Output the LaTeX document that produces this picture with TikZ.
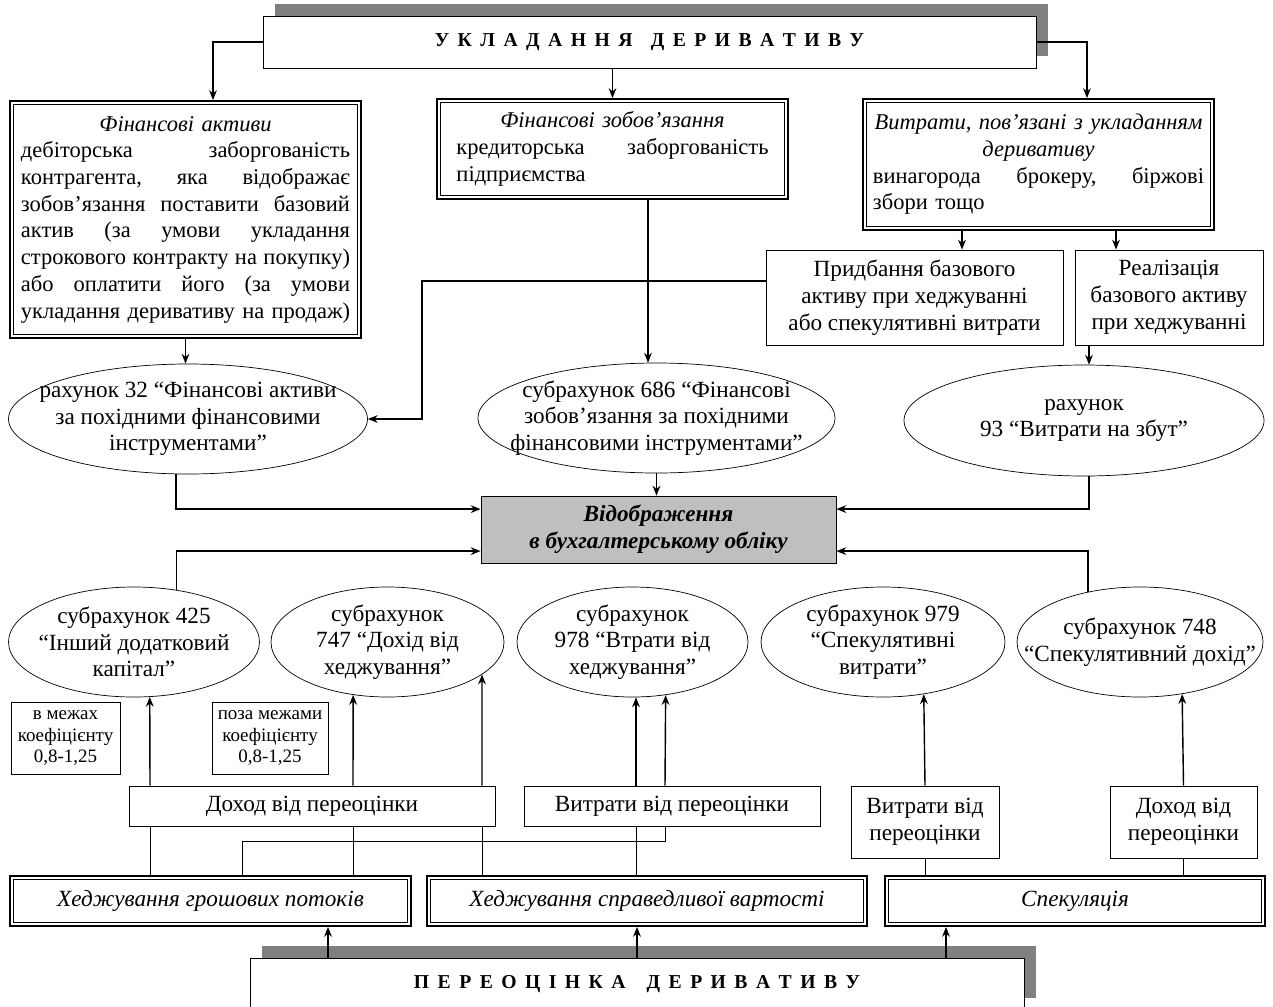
\documentclass[tikz,border=0pt]{standalone}
\usepackage{fontspec}
\setmainfont{Liberation Serif}
\usepackage{xcolor}
\usepackage{tikz}
\usetikzlibrary{
    shapes,
    shapes.geometric,
    positioning,
    shadows,
    calc,
    arrows.meta
}
\definecolor{shadowgray}{gray}{0.5}
\definecolor{boxgray}{gray}{0.75}
\newcommand{\pxs}{0.025cm}
\newcommand{\mainsize}{\fontsize{16.5}{19}\selectfont}
\newcommand{\boxsize}{\fontsize{16}{19}\selectfont}
\newcommand{\notesize}{\fontsize{13.5}{15.6}\selectfont}
\newcommand{\headsize}{\fontsize{14}{17}\selectfont}
\newlength{\jw}
\newcommand{\jline}[1]{\leavevmode\hbox to \jw{#1}}
\tikzset{
  basic/.style = {
      draw,
      fill=white,
      line width=0.6pt,
      font=\mainsize,
      align=center,
      inner sep=0pt
  },
  dbox/.style = {
      basic,
      line width=1.3pt,
      path picture={
        \draw[line width=0.6pt]
          ([shift={(2.7pt,2.7pt)}]path picture bounding box.south west) rectangle
          ([shift={(-2.7pt,-2.7pt)}]path picture bounding box.north east);
      }
  },
  infobox/.style = {
      dbox,
      font=\boxsize
  },
  hedge/.style = {
      dbox,
      font=\mainsize\itshape
  },
  headbox/.style = {
      basic,
      font={\headsize\bfseries\spaceskip=6pt\relax},
      drop shadow={shadow xshift=0.3cm, shadow yshift=0.3cm,
                   fill=shadowgray, opacity=1}
  },
  result/.style = {
      basic,
      fill=boxgray,
      font=\mainsize\bfseries\itshape
  },
  note/.style = {
      basic,
      font=\notesize
  },
  account/.style = {
      draw,
      ellipse,
      line width=0.5pt,
      inner sep=0pt
  },
  acctext/.style = {
      font=\mainsize,
      align=center,
      inner sep=0pt
  },
  flow/.style = {
      line width=1pt,
      -{Stealth[length=7pt, width=5.5pt]}
  },
  link/.style = {
      line width=0.6pt
  }
}

\begin{document}
\begin{tikzpicture}[x=\pxs, y=-\pxs]
        \useasboundingbox (0,0) rectangle (1273,1006);
        \clip (0,0) rectangle (1273,1006);
        \coordinate (x150) at (150,0);
        \coordinate (x176) at (176,0);
        \coordinate (x213) at (213,0);
        \coordinate (x242) at (242,0);
        \coordinate (x328) at (328,0);
        \coordinate (x353) at (353,0);
        \coordinate (x422) at (422,0);
        \coordinate (x482) at (482,0);
        \coordinate (x636) at (636,0);
        \coordinate (x637) at (637,0);
        \coordinate (x648) at (648,0);
        \coordinate (x946) at (946,0);
        \coordinate (x962) at (962,0);
        \coordinate (x1087) at (1087,0);
        \coordinate (x1089) at (1089,0);
        \coordinate (x1116) at (1116,0);
        \coordinate (jog) at (665,841);
        % Boxes
        \node[headbox, minimum width=773*\pxs, minimum height=52*\pxs] (TOP) at (649.5,42)
            {У К Л А Д А Н Н Я\hspace{13pt}Д Е Р И В А Т И В У};
        \node[infobox, minimum width=351*\pxs, minimum height=237*\pxs, text width=8.225cm] (FA) at (185.5,219.5)
            {\setlength{\jw}{8.225cm}\textit{Фінансові активи}\\
             \jline{дебіторська\hfill заборгованість}\\
             \jline{контрагента,\hfill яка\hfill відображає}\\
             \jline{зобов’язання\hfill поставити\hfill базовий}\\
             \jline{актив\hfill (за\hfill умови\hfill укладання}\\
             \jline{строкового\hfill контракту\hfill на\hfill покупку)}\\
             \jline{або\hfill оплатити\hfill його\hfill (за\hfill умови}\\
             \jline{укладання\hfill деривативу\hfill на\hfill продаж)}};
        \node[infobox, minimum width=351*\pxs, minimum height=100*\pxs, text width=7.8cm] (FL) at (612.5,149)
            {\setlength{\jw}{7.8cm}\textit{Фінансові зобов’язання}\\
             \jline{кредиторська\hfill заборгованість}\\
             \jline{підприємства\hfill}};
        \node[infobox, minimum width=351*\pxs, minimum height=131*\pxs, text width=8.275cm] (CO) at (1038.5,164.5)
            {\setlength{\jw}{8.275cm}\makebox[\jw]{\textit{Витрати, пов’язані з укладанням}}\\
             \textit{деривативу}\\
             \jline{винагорода\hfill брокеру,\hfill біржові}\\
             \jline{збори тощо\hfill}};
        \node[basic, minimum width=297*\pxs, minimum height=95*\pxs] (PB) at (914.5,297.5)
            {Придбання базового\\активу при хеджуванні\\або спекулятивні витрати};
        \node[basic, minimum width=188*\pxs, minimum height=95*\pxs] (RB) at (1169,297.5)
            {Реалізація\\базового активу\\при хеджуванні};
        \node[account, minimum width=359*\pxs, minimum height=110*\pxs,
              label={[acctext]center:{рахунок 32 “Фінансові активи\\за похідними фінансовими\\інструментами”}}] (A32) at (188,419) {};
        \node[account, minimum width=357*\pxs, minimum height=110*\pxs,
              label={[acctext]center:{субрахунок 686 “Фінансові\\зобов’язання за похідними\\фінансовими інструментами”}}] (A686) at (656.5,418) {};
        \node[account, minimum width=360*\pxs, minimum height=111*\pxs,
              label={[acctext]center:{рахунок\\93 “Витрати на збут”}}] (A93) at (1084,420.5) {};
        \node[result, minimum width=355*\pxs, minimum height=67*\pxs] (REC) at (658.5,529.5)
            {Відображення\\в бухгалтерському обліку};
        \node[account, minimum width=251*\pxs, minimum height=110*\pxs,
              label={[acctext]center:{субрахунок 425\\“Інший додатковий\\капітал”}}] (A425) at (134,642) {};
        \node[account, minimum width=233*\pxs, minimum height=110*\pxs,
              label={[acctext]center:{субрахунок\\747 “Дохід від\\хеджування”}}] (A747) at (387.5,642) {};
        \node[account, minimum width=231*\pxs, minimum height=110*\pxs,
              label={[acctext]center:{субрахунок\\978 “Втрати від\\хеджування”}}] (A978) at (632.5,642) {};
        \node[account, minimum width=244*\pxs, minimum height=110*\pxs,
              label={[acctext]center:{субрахунок 979\\“Спекулятивні\\витрати”}}] (A979) at (883,642) {};
        \node[account, minimum width=246*\pxs, minimum height=110*\pxs,
              label={[acctext]center:{субрахунок 748\\“Спекулятивний дохід”}}] (A748) at (1140,642) {};
        \node[note, minimum width=109*\pxs, minimum height=72*\pxs] (N1) at (65.5,738)
            {в межах\\коефіцієнту\\0,8-1,25};
        \node[note, minimum width=116*\pxs, minimum height=72*\pxs] (N2) at (270,738)
            {поза межами\\коефіцієнту\\0,8-1,25};
        \node[basic, minimum width=366*\pxs, minimum height=40*\pxs] (GI) at (312,806) {Доход від переоцінки};
        \node[basic, minimum width=296*\pxs, minimum height=40*\pxs] (GL) at (672,806) {Витрати від переоцінки};
        \node[basic, minimum width=148*\pxs, minimum height=72*\pxs] (SL) at (925,822) {Витрати від\\переоцінки};
        \node[basic, minimum width=147*\pxs, minimum height=72*\pxs] (SG) at (1183.5,822) {Доход від\\переоцінки};
        \node[hedge, minimum width=401*\pxs, minimum height=50*\pxs] (HC) at (210.5,901) {Хеджування грошових потоків};
        \node[hedge, minimum width=440*\pxs, minimum height=50*\pxs] (HF) at (647,901) {Хеджування справедливої вартості};
        \node[hedge, minimum width=380*\pxs, minimum height=50*\pxs] (SP) at (1075,901) {Спекуляція};
        \node[headbox, minimum width=774*\pxs, minimum height=52*\pxs] (BOT) at (637,984)
            {П Е Р Е О Ц І Н К А\hspace{15pt}Д Е Р И В А Т И В У};
        % Edges
        \draw[flow] (TOP.west) -| (x213 |- FA.north);
        \draw[flow] (TOP.south -| FL.north) -- (FL.north);
        \draw[flow] (TOP.east) -| (x1087 |- CO.north);
        \draw[flow] (FA.south) -- (FA.south |- A32.north);
        \draw[flow] (FL.south -| x648) -- (x648 |- A686.north);
        \draw[flow] (CO.south -| x962) -- (x962 |- PB.north);
        \draw[flow] (CO.south -| x1116) -- (x1116 |- RB.north);
        \draw[flow] ([yshift=0.41cm]PB.west) -| (x422 |- A32.east) -- (A32.east);
        \draw[flow] (RB.south -| x1089) -- (x1089 |- A93.north);
        \draw[flow] (A686.south) -- (A686.south |- REC.north);
        \draw[flow] (A32.south -| x176) |- ([yshift=0.51cm]REC.west);
        \draw[flow] (A93.south -| x1089) |- ([yshift=0.51cm]REC.east);
        \draw[flow] (A425.51) |- ([yshift=-0.54cm]REC.west);
        \draw[flow] (A748.136) |- ([yshift=-0.54cm]REC.east);
        \draw[link] (HC.north -| x150) -- (GI.south -| x150);
        \draw[flow] (GI.north -| x150) -- (A425.286);
        \draw[link] (HC.north -| x353) -- (GI.south -| x353);
        \draw[flow] (GI.north -| x353) -- (A747.237);
        \draw[link] (HC.north -| x242) |- (jog) -- (GL.south -| jog);
        \draw[flow] (GL.north -| jog) -- (A978.302);
        \draw[link] (HF.north -| x482) -- (GI.south -| x482);
        \draw[flow] (GI.north -| x482) -- (A747.341);
        \draw[link] (HF.north -| x636) -- (GL.south -| x636);
        \draw[flow] (GL.north -| x636) -- (x636 |- A978.south);
        \draw[link] (SP.north -| SL.south) -- (SL.south);
        \draw[flow] (SL.north) -- (A979.308);
        \draw[link] (SP.north -| SG.south) -- (SG.south);
        \draw[flow] (SG.north) -- (A748.309);
        \draw[flow] (BOT.north -| x328) -- (x328 |- HC.south);
        \draw[flow] (BOT.north -| x637) -- (x637 |- HF.south);
        \draw[flow] (BOT.north -| x946) -- (x946 |- SP.south);
\end{tikzpicture}
\end{document}
